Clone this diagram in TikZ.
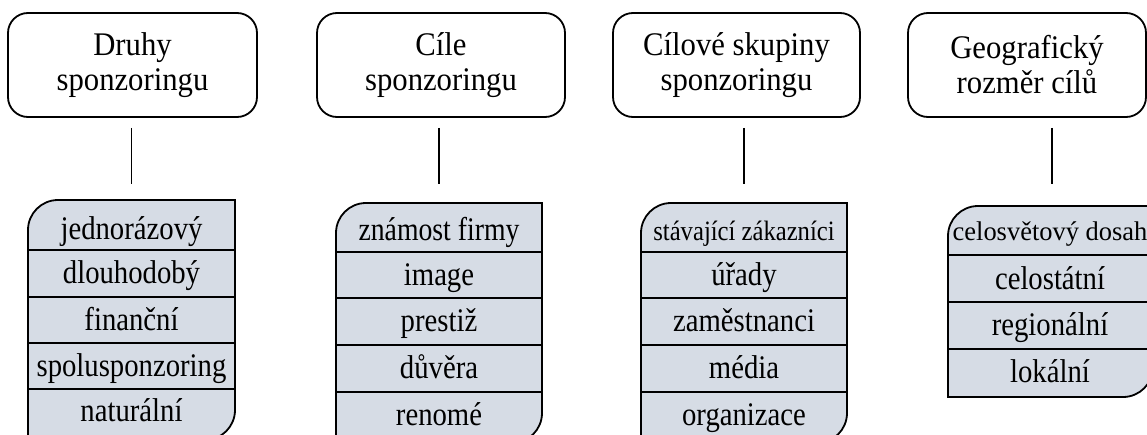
\documentclass[tikz,border=0pt]{standalone}
\usepackage{fontspec}
\usepackage{graphicx}
\setmainfont{Liberation Serif}
\definecolor{listfill}{HTML}{D6DCE5}
\newcommand\hdrfont{\fontsize{33}{35}\selectfont}
\newcommand\itemfont{\fontsize{33}{36}\selectfont}
\newcommand\hsq[2][0.87]{\scalebox{#1}[1]{#2}}
\tikzset{
  hdr/.style={draw, line width=1.8pt, rounded corners=20pt, minimum height=104pt, align=center, font=\hdrfont, inner sep=0pt},
  item/.style={inner sep=0pt, font=\itemfont, anchor=base},
  lst/.style={draw, line width=1.8pt, fill=listfill},
  sepline/.style={line width=1.6pt},
  conn/.style={line width=1.3pt}
}
\begin{document}
\begin{tikzpicture}[x=1pt,y=-1pt]
\useasboundingbox (0,0) rectangle (1147,434);
% header boxes
\node[hdr, minimum width=249pt] (t1) at (132.5,65) {\hsq[0.93]{Druhy}\\\hsq[0.93]{sponzoringu}};
\node[hdr, minimum width=248pt] (t2) at (441,65) {\hsq[0.93]{Cíle}\\\hsq[0.93]{sponzoringu}};
\node[hdr, minimum width=247pt] (t3) at (736.5,65) {\hsq[0.93]{Cílové skupiny}\\\hsq[0.93]{sponzoringu}};
\node[hdr, minimum width=238pt] (t4) at (1027,65) {\hsq[0.93]{Geografický}\\\hsq[0.93]{rozměr cílů}};
% list outlines
\def\R{30}
\filldraw[lst] (28,460) -- (28,200+\R) arc[start angle=180, end angle=270, radius=\R] -- (235,200) -- (235,440-\R) arc[start angle=0, end angle=90, radius=\R] -- (28,440) -- cycle;
\filldraw[lst] (336,460) -- (336,203+\R) arc[start angle=180, end angle=270, radius=\R] -- (542,203) -- (542,443-\R) arc[start angle=0, end angle=90, radius=\R] -- (336,443) -- cycle;
\filldraw[lst] (641,460) -- (641,203+\R) arc[start angle=180, end angle=270, radius=\R] -- (847,203) -- (847,443-\R) arc[start angle=0, end angle=90, radius=\R] -- (641,443) -- cycle;
\filldraw[lst] (948,397) -- (948,206+\R) arc[start angle=180, end angle=270, radius=\R] -- (1153,206) -- (1153,397-\R) arc[start angle=0, end angle=90, radius=\R] -- cycle;
% row separators
\foreach \y in {250,297,343,389} \draw[sepline] (28,\y) -- (235,\y);
\foreach \y in {252,298,345,392} \draw[sepline] (336,\y) -- (542,\y);
\foreach \y in {252,298,345,392} \draw[sepline] (641,\y) -- (847,\y);
\foreach \y in {255,302,349} \draw[sepline] (948,\y) -- (1153,\y);
% list items
\node[item] (l1a) at (131.5,239) {\hsq{jednorázový}};
\node[item] (l1b) at (131.5,283) {\hsq{dlouhodobý}};
\node[item] (l1c) at (131.5,330) {\hsq{finanční}};
\node[item] (l1d) at (131.5,376) {\hsq{spolusponzoring}};
\node[item] (l1e) at (131.5,421) {\hsq{naturální}};
\node[item] (l2a) at (439,240) {\hsq[0.84]{známost firmy}};
\node[item] (l2b) at (439,285) {\hsq{image}};
\node[item] (l2c) at (439,331) {\hsq{prestiž}};
\node[item] (l2d) at (439,378) {\hsq{důvěra}};
\node[item] (l2e) at (439,425) {\hsq{renomé}};
\node[item, font=\fontsize{28}{30}\selectfont] (l3a) at (744,240) {\hsq[0.88]{stávající zákazníci}};
\node[item] (l3b) at (744,285) {\hsq{úřady}};
\node[item] (l3c) at (744,331) {\hsq{zaměstnanci}};
\node[item] (l3d) at (744,378) {\hsq{média}};
\node[item] (l3e) at (744,425) {\hsq{organizace}};
\node[item, font=\fontsize{27}{30}\selectfont] (l4a) at (1050,240) {\hsq[0.98]{celosvětový dosah}};
\node[item] (l4b) at (1050,289) {\hsq{celostátní}};
\node[item] (l4c) at (1050,335) {\hsq{regionální}};
\node[item] (l4d) at (1050,382) {\hsq{lokální}};
% connector end points
\coordinate (L1) at (131.5,200);
\coordinate (L2) at (439,203);
\coordinate (L3) at (744,203);
\coordinate (L4) at (1052,206);
\draw[conn] ([yshift=-10pt]t1.south -| L1) -- ([yshift=16pt]L1);
\draw[conn] ([yshift=-10pt]t2.south -| L2) -- ([yshift=19pt]L2);
\draw[conn] ([yshift=-10pt]t3.south -| L3) -- ([yshift=19pt]L3);
\draw[conn] ([yshift=-10pt]t4.south -| L4) -- ([yshift=22pt]L4);
\end{tikzpicture}
\end{document}
